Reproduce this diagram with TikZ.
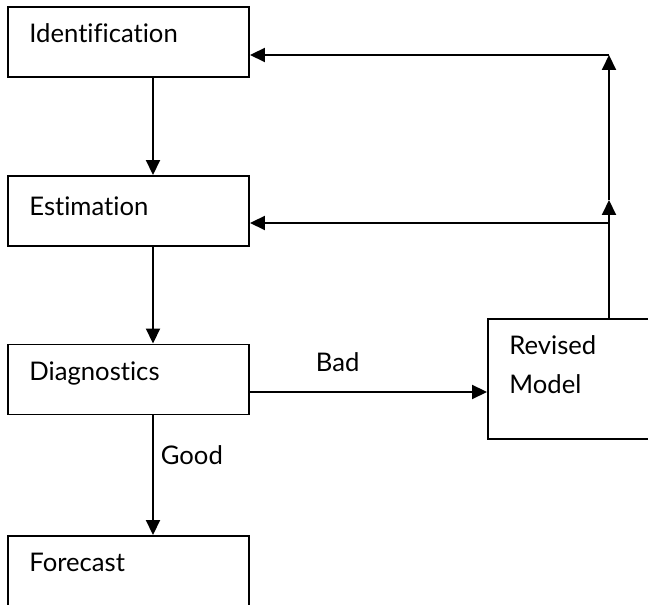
\documentclass[tikz,border=0pt]{standalone}
\usepackage{fontspec}
\setmainfont{Lato}[Ligatures=NoCommon]
\usetikzlibrary{arrows.meta}

\begin{document}
\begin{tikzpicture}[x=1cm,y=1cm,font=\fontsize{14.6}{22}\selectfont,
  box/.style={draw,line width=1.1pt,minimum width=4.82cm,minimum height=1.40cm,inner sep=0pt},
  tag/.style={anchor=north west,inner sep=0pt,align=left,xshift=0.44cm,yshift=-0.35cm},
  link/.style={line width=1.1pt,-{Triangle[length=0.30cm,width=0.28cm]}}]
\useasboundingbox (0,0) rectangle (12.96,12.10);
\clip (0,0) rectangle (12.96,12.10);
\node[box,label={[tag]north west:Identification}] (ident) at (2.57,11.26) {};
\node[box,label={[tag,yshift=-0.08cm]north west:Estimation}] (estim) at (2.57,7.88) {};
\node[box,label={[tag]north west:Diagnostics}] (diag) at (2.57,4.51) {};
\node[box,minimum height=1.60cm,label={[tag]north west:Forecast}] (fore) at (2.57,0.58) {};
\node[box,minimum width=3.54cm,minimum height=2.40cm,label={[tag]north west:Revised\\Model}] (rev) at (11.53,4.52) {};
\coordinate (lo) at (12.18,7.64);
\coordinate (mid) at (12.18,8.10);
\coordinate (hi) at (12.18,11.00);
\foreach \a/\b in {ident/estim,estim/diag}{
  \draw[link] ([xshift=0.49cm]\a.south) -- ([xshift=0.49cm]\b.north);}
\draw[link] ([xshift=0.49cm]diag.south) -- node[pos=0.33,right=0.02cm] {Good} ([xshift=0.49cm]fore.north);
\draw[link] ([yshift=-0.25cm]diag.east) -- node[pos=0.37,above=0.27cm] {Bad} ([yshift=-0.25cm]diag.east -| rev.west);
\draw[link] (mid |- rev.north) -- (mid);
\draw[link] (mid) -- (hi);
\draw[link] (hi) -- (hi -| ident.east);
\draw[link] (lo) -- (lo -| estim.east);
\end{tikzpicture}
\end{document}
